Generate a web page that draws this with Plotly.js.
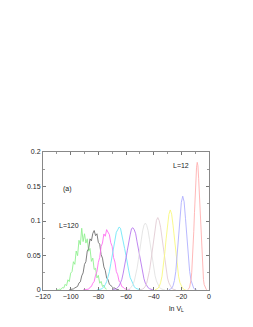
<!DOCTYPE html>
<html><head><meta charset="utf-8">
<script src="https://cdn.plot.ly/plotly-3.0.1.min.js"></script>
<style>html,body{margin:0;padding:0;background:#fff;}#c{width:253px;height:327px;}</style>
</head><body><div id="c"></div>
<script>
// L=12 (red)
const redX = [-15.5,-15,-14.5,-14,-13.5,-13,-12.5,-12,-11.5,-11,-10.5,-10,-9.5,-9,-8.5,-8,-7.5,-7,-6.5,-6,-5.5,-5,-4.5,-4,-3.5,-3,-2.5,-2,-1.5];
const redY = [0.0004,0.0009,0.0021,0.0042,0.0081,0.0147,0.025,0.040,0.060,0.085,0.112,0.140,0.163,0.178,0.185,0.180,0.162,0.141,0.111,0.086,0.059,0.041,0.024,0.015,0.0080,0.0043,0.0020,0.0009,0.0004];
// blue
const blueX = [-29,-28,-27,-26,-25,-24,-23,-22,-21,-20,-19,-18,-17,-16,-15,-14,-13,-12,-11,-10,-9];
const blueY = [0.0003,0.0008,0.0023,0.006,0.0137,0.027,0.049,0.076,0.105,0.127,0.136,0.128,0.104,0.077,0.048,0.027,0.014,0.006,0.0023,0.0008,0.0003];
// yellow
const yelX = [-39,-38,-37,-36,-35,-34,-33,-32,-31,-30,-29,-28,-27,-26,-25,-24,-23,-22,-21,-20,-19,-18,-17];
const yelY = [0.0004,0.0009,0.0022,0.005,0.0105,0.0198,0.0339,0.0527,0.0741,0.0946,0.1095,0.116,0.110,0.094,0.075,0.052,0.034,0.020,0.0105,0.005,0.0022,0.0009,0.0004];
// pinkish grey
const pgX = [-50,-49,-48,-47,-46,-45,-44,-43,-42,-41,-40,-39,-38,-37,-36,-35,-34,-33,-32,-31,-30,-29,-28,-27,-26,-25,-24];
const pgY = [0.0002,0.0005,0.0013,0.0027,0.0054,0.0101,0.0175,0.0282,0.0421,0.0586,0.0756,0.0907,0.101,0.105,0.1005,0.091,0.0752,0.059,0.0418,0.0285,0.0173,0.0103,0.0053,0.0028,0.0012,0.0005,0.0002];
// light grey
const lgX = [-60,-59,-58,-57,-56,-55,-54,-53,-52,-51,-50,-49,-48,-47,-46,-45,-44,-43,-42,-41,-40,-39,-38,-37,-36,-35,-34,-33,-32];
const lgY = [0.0002,0.0005,0.0011,0.0022,0.0043,0.0077,0.0131,0.0210,0.0315,0.0444,0.0588,0.0732,0.0856,0.094,0.097,0.0935,0.0858,0.0729,0.059,0.0441,0.0317,0.0208,0.0132,0.0076,0.0044,0.0022,0.0011,0.0005,0.0002];
// purple
const purX = [-70,-69,-68,-67,-66,-65,-64,-63,-62,-61,-60,-59,-58,-57,-56,-55,-54,-53,-52,-51,-50,-49,-48,-47,-46,-45,-44,-43,-42,-41,-40];
const purY = [0.0003,0.0006,0.0010,0.0017,0.0036,0.0058,0.0104,0.0155,0.0245,0.0334,0.0465,0.0578,0.0714,0.0798,0.0889,0.0902,0.0871,0.0815,0.0698,0.0590,0.0452,0.0345,0.0235,0.0162,0.0098,0.0062,0.0033,0.0019,0.0008,0.0005,0.0002];
// cyan
const cyX = [-81,-80,-79,-78,-77,-76,-75,-74,-73,-72,-71,-70,-69,-68,-67,-66,-65,-64,-63,-62,-61,-60,-59,-58,-57,-56,-55,-54,-53,-52,-51,-50,-49];
const cyY = [0.0002,0.0004,0.0008,0.0013,0.0027,0.0044,0.0079,0.0120,0.0192,0.0265,0.0380,0.0484,0.0621,0.0718,0.0836,0.0872,0.0912,0.0895,0.0810,0.0735,0.0602,0.0498,0.0369,0.0276,0.0182,0.0127,0.0074,0.0048,0.0025,0.0015,0.0007,0.0004,0.0002];
// magenta
const magX = [-91,-90,-89,-88,-87,-86,-85,-84,-83,-82,-81,-80,-79,-78,-77,-76,-75,-74,-73,-72,-71,-70,-69,-68,-67,-66,-65,-64,-63,-62,-61,-60,-59,-58,-57];
const magY = [0.0003,0.0007,0.0004,0.0015,0.0012,0.0040,0.0051,0.0098,0.0124,0.0215,0.0268,0.0401,0.0472,0.0628,0.0681,0.0812,0.0779,0.0875,0.0832,0.0801,0.0685,0.0632,0.0470,0.0405,0.0268,0.0221,0.0128,0.0105,0.0049,0.0040,0.0017,0.0014,0.0005,0.0004,0.0001];
// black (dark grey)
const blkX = [-101,-100,-99,-98,-97,-96,-95,-94,-93,-92,-91,-90,-89,-88,-87,-86,-85,-84,-83,-82,-81,-80,-79,-78,-77,-76,-75,-74,-73,-72,-71,-70,-69,-68,-67,-66,-65];
const blkY = [0.0004,0.0010,0.0006,0.0016,0.0030,0.0045,0.0052,0.0102,0.0118,0.0205,0.0248,0.0372,0.0410,0.0565,0.0598,0.0741,0.0712,0.0820,0.0862,0.0788,0.0815,0.0690,0.0665,0.0512,0.0462,0.0335,0.0285,0.0175,0.0150,0.0082,0.0071,0.0048,0.0025,0.0030,0.0010,0.0008,0.0002];
// L=120 (green)
const grnX = [-110,-109,-108,-107,-106,-105,-104,-103,-102,-101,-100,-99,-98,-97,-96,-95,-94,-93,-92,-91,-90,-89,-88,-87,-86,-85,-84,-83,-82,-81,-80,-79,-78,-77,-76,-75,-74];
const grnY = [0.0004,0.0002,0.0012,0.0008,0.0035,0.0028,0.0082,0.0061,0.0148,0.0122,0.0245,0.0268,0.0410,0.0372,0.0565,0.0498,0.0720,0.0655,0.0895,0.0702,0.0815,0.0680,0.0742,0.0562,0.0601,0.0415,0.0462,0.0298,0.0315,0.0175,0.0212,0.0098,0.0125,0.0052,0.0068,0.0021,0.0012];

const xTicks = [-120,-100,-80,-60,-40,-20,0];
const yTicks = [0,0.05,0.1,0.15,0.2];
const yTickText = ['0','0.05','0.1','0.15','0.2'];

const series = [
  [grnX,grnY,'#90f090'],
  [blkX,blkY,'#707070'],
  [magX,magY,'#ff70f0'],
  [cyX,cyY,'#70e8f8'],
  [purX,purY,'#b878ee'],
  [lgX,lgY,'#e2e2e2'],
  [pgX,pgY,'#e2ccd4'],
  [yelX,yelY,'#f8f880'],
  [blueX,blueY,'#b0b0ff'],
  [redX,redY,'#ffb0b0']
];
const traces = series.map(s => ({x:s[0], y:s[1], type:'scatter', mode:'lines', line:{color:s[2], width:0.9}, hoverinfo:'skip'}));

const fnt = {family:'Liberation Sans, Arial, sans-serif', size:7, color:'#222'};
const layout = {
  width:253, height:327,
  margin:{l:43, r:44, t:152, b:37},
  paper_bgcolor:'#fff', plot_bgcolor:'#fff',
  showlegend:false,
  font:fnt,
  xaxis:{range:[-120,0], tickvals:xTicks, ticktext:xTicks.map(v=>v<0?'\u2212'+Math.abs(v):String(v)),
         ticks:'inside', ticklen:3, tickcolor:'#777', showline:true, linecolor:'#888', linewidth:1, mirror:'ticks',
         showgrid:false, zeroline:false, tickfont:fnt,
         minor:{dtick:10, ticks:'inside', ticklen:2, tickcolor:'#999'}},
  yaxis:{range:[0,0.2], tickvals:yTicks, ticktext:yTickText,
         ticks:'inside', ticklen:3, tickcolor:'#777', showline:true, linecolor:'#888', linewidth:1, mirror:'ticks',
         showgrid:false, zeroline:false, tickfont:fnt,
         minor:{dtick:0.025, ticks:'inside', ticklen:2, tickcolor:'#999'}},
  annotations:[
    {x:-102, y:0.146, xref:'x', yref:'y', text:'(a)', showarrow:false, font:fnt},
    {x:-101, y:0.093, xref:'x', yref:'y', text:'L=120', showarrow:false, font:fnt},
    {x:-20, y:0.18, xref:'x', yref:'y', text:'L=12', showarrow:false, font:fnt},
    {x:(176-43)/166, y:(290-309)/138, xref:'paper', yref:'paper', xanchor:'center', yanchor:'middle',
     text:'ln V<sub>L</sub>', showarrow:false, font:fnt}
  ]
};
Plotly.newPlot('c', traces, layout, {staticPlot:true, displayModeBar:false});
</script>
</body></html>
